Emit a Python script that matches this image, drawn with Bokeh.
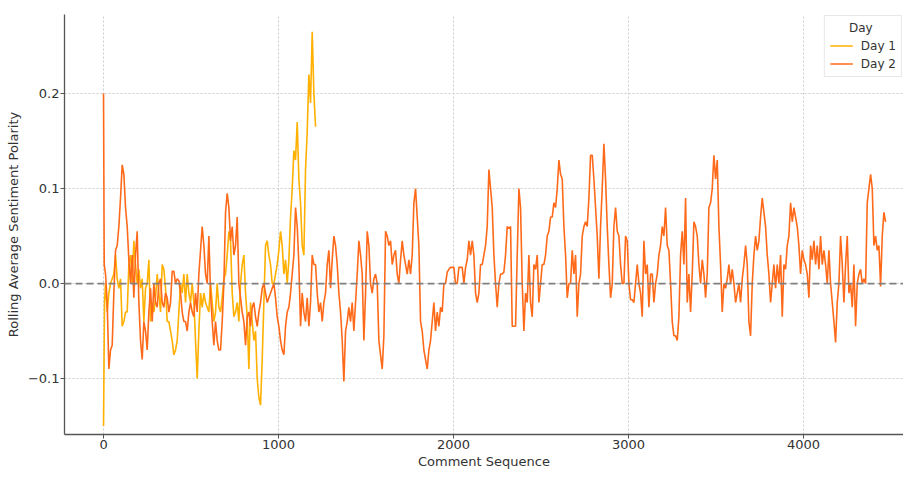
from bokeh.plotting import figure
from bokeh.models import Range1d, Span, Legend, LegendItem, FixedTicker
from bokeh.embed import file_html
from bokeh.resources import INLINE

# ---------------- data (rolling average sentiment polarity) ----------------
SAMPLE_STEP = 9.524   # comments between consecutive readings
GRID_START = 11.43    # first regular reading position

day1_head_x = [0, 5.7]
day1_head_y = [-0.15, -0.02]
day1_values = [
    0.0, -0.03, -0.01, 0.0, 0.005, 0.01, 0.03, 0.005, -0.005, 0.005,
    -0.045, -0.04, -0.03, -0.03, 0.02, 0.03, 0.0, 0.045, 0.02, 0.0,
    0.015, -0.005, 0.005, -0.04, -0.005, 0.0, 0.025, -0.04, -0.02, -0.03,
    -0.015, 0.01, -0.01, -0.03, 0.02, 0.015, -0.005, -0.04, -0.04, -0.05,
    -0.06, -0.075, -0.07, -0.06, -0.03, 0.0, -0.01, 0.01, -0.02, 0.01,
    -0.01, -0.02, 0.0, -0.02, -0.06, -0.1, -0.05, -0.01, -0.025, -0.01,
    -0.02, -0.025, -0.03, 0.0, -0.02, -0.04, -0.03, 0.0, -0.025, -0.03,
    -0.015, 0.005, 0.01, 0.03, 0.055, 0.045, -0.01, -0.035, -0.03, -0.02,
    -0.04, 0.0, 0.02, 0.03, -0.01, -0.035, -0.09, -0.02, -0.04, -0.06,
    -0.05, -0.1, -0.12, -0.128, -0.08, -0.02, 0.04, 0.045, 0.03, 0.02,
    0.0, 0.0, 0.01, 0.02, 0.035, 0.055, 0.04, 0.01, 0.025, 0.0,
    0.025, 0.07, 0.1, 0.14, 0.13, 0.17, 0.11, 0.085, 0.04, 0.03,
    0.12, 0.16, 0.22, 0.19, 0.265, 0.2, 0.165,
]

day2_head_x = [0, 4]
day2_head_y = [0.2, 0.02]
day2_values = [
    # comments ~10 .. ~1980
    0.01, -0.02, -0.09, -0.07, -0.065, -0.01, 0.035, 0.04, 0.06, 0.09,
    0.125, 0.115, 0.08, 0.06, 0.025, 0.0, 0.03, -0.015, 0.03, 0.055,
    -0.02, -0.06, -0.08, -0.04, -0.05, -0.07, -0.03, -0.005, -0.04, 0.0,
    -0.02, -0.025, 0.0, 0.005, -0.02, -0.025, -0.01, -0.015, -0.03, -0.02,
    0.013, 0.013, 0.0, 0.005, 0.003, -0.01, -0.03, -0.04, -0.04, -0.05,
    -0.03, -0.02, -0.03, -0.035, -0.01, -0.03, 0.01, 0.035, 0.06, 0.04,
    0.01, 0.0, 0.05, -0.01, -0.04, -0.065, -0.04, -0.06, -0.07, -0.07,
    -0.04, 0.0, 0.075, 0.095, 0.08, 0.045, 0.06, 0.03, 0.04, 0.07,
    0.0, -0.015, -0.03, -0.04, -0.065, -0.035, -0.03, -0.045, -0.025, -0.02,
    -0.035, -0.045, -0.03, -0.02, -0.005, 0.0, -0.01, -0.02, -0.015, -0.01,
    -0.005, 0.0, -0.015, -0.035, -0.045, -0.06, -0.07, -0.075, -0.045, -0.03,
    -0.025, -0.01, 0.01, 0.03, 0.08, 0.06, 0.02, -0.045, -0.01, -0.03,
    -0.04, -0.015, -0.045, -0.02, 0.03, 0.02, 0.02, -0.01, -0.03, -0.02,
    -0.04, -0.02, -0.01, 0.02, 0.035, -0.005, 0.025, 0.05, 0.04, 0.02,
    -0.01, -0.03, -0.06, -0.103, -0.05, -0.04, -0.025, -0.04, -0.02, -0.05,
    -0.02, 0.01, 0.045, 0.03, 0.01, -0.06, -0.01, 0.055, 0.04, 0.0,
    -0.01, 0.005, 0.01, 0.0, -0.06, -0.075, -0.09, -0.055, 0.055, 0.05,
    0.04, 0.045, 0.02, 0.03, 0.035, 0.01, 0.0, 0.025, 0.045, 0.03,
    0.02, 0.01, 0.025, 0.01, 0.03, 0.085, 0.1, 0.07, 0.04, -0.04,
    -0.05, -0.07, -0.08, -0.09, -0.07, -0.06, -0.04, -0.02, -0.05, -0.03,
    -0.045, -0.025, -0.03, 0.0, 0.0, 0.012, 0.015,
    # comments ~1983 .. ~4470
    0.017, 0.017, 0.017, 0.0, 0.0, 0.017, 0.017, 0.017, 0.0, 0.017,
    0.025, 0.045, 0.03, 0.045, 0.03, -0.01, -0.02, -0.01, 0.02, 0.02,
    0.03, 0.04, 0.06, 0.12, 0.1, 0.08, 0.03, 0.0, -0.025, 0.0,
    0.01, 0.01, 0.012, 0.03, 0.06, 0.058, 0.06, -0.045, -0.045, -0.045,
    0.03, 0.1, 0.08, 0.0, -0.05, -0.01, -0.02, 0.03, -0.02, -0.035,
    0.02, 0.015, 0.03, -0.02, 0.0, 0.02, 0.02, 0.03, 0.05, 0.055,
    0.07, 0.07, 0.085, 0.08, 0.1, 0.13, 0.115, 0.11, 0.06, 0.03,
    -0.015, 0.0, 0.0, 0.035, 0.01, 0.03, -0.035, 0.0, 0.01, 0.05,
    0.06, 0.065, 0.06, 0.09, 0.135, 0.135, 0.11, 0.08, 0.05, 0.005,
    0.06, 0.1, 0.147, 0.11, 0.06, 0.02, -0.015, 0.0, 0.06, 0.08,
    0.055, 0.05, 0.02, 0.0, 0.0, 0.05, 0.045, 0.0, -0.017, -0.017,
    -0.02, 0.0, 0.02, 0.0, -0.01, -0.035, 0.045, 0.01, 0.02, -0.025,
    0.01, 0.01, -0.02, 0.0, 0.01, 0.03, 0.04, 0.06, 0.05, 0.08,
    0.04, 0.035, 0.0, -0.04, -0.055, -0.055, -0.06, -0.035, 0.03, 0.055,
    0.02, 0.09, -0.02, 0.01, -0.03, 0.01, 0.065, 0.06, 0.05, 0.02,
    0.0, 0.025, 0.01, -0.015, 0.01, 0.08, 0.085, 0.1, 0.135, 0.11,
    0.13, 0.06, 0.02, -0.03, 0.0, -0.005, 0.005, 0.02, 0.0, 0.015,
    0.0, -0.02, -0.01, 0.0, -0.02, 0.005, 0.02, 0.04, 0.02, -0.04,
    -0.055, 0.0, 0.03, 0.05, 0.035, 0.045, 0.07, 0.09, 0.075, 0.06,
    0.03, 0.01, -0.02, 0.0, 0.02, -0.005, 0.02, 0.0, 0.03, -0.035,
    0.02, 0.015, 0.04, 0.05, 0.085, 0.065, 0.08, 0.07, 0.06, 0.04,
    0.01, 0.035, 0.025, 0.02, 0.01, -0.015, 0.04, 0.025, 0.045, 0.02,
    0.04, 0.015, 0.05, 0.02, 0.035, 0.02, 0.0, 0.035, 0.0, -0.02,
    -0.04, -0.062, -0.02, 0.0, 0.05, 0.02, -0.02, 0.02, 0.05, -0.01,
    0.0, -0.025, 0.02, -0.045, 0.0, 0.01, 0.015, 0.0, 0.005, 0.0,
    0.085, 0.1, 0.115, 0.1, 0.04, 0.05, 0.035, 0.04, -0.003, 0.05,
    0.075, 0.065,
]

day1_x = day1_head_x + [GRID_START + SAMPLE_STEP * k for k in range(len(day1_values))]
day1_y = day1_head_y + day1_values
day2_x = day2_head_x + [GRID_START + SAMPLE_STEP * k for k in range(len(day2_values))]
day2_y = day2_head_y + day2_values

x_ticks = [0, 1000, 2000, 3000, 4000]
y_ticks = [-0.1, 0.0, 0.1, 0.2]
y_tick_labels = {-0.1: "\u22120.1", 0.0: "0.0", 0.1: "0.1", 0.2: "0.2"}
series_labels = ["Day 1", "Day 2"]
series_colors = ["#FFB000", "#FF6A1A"]

# ---------------- figure ----------------
FONT = "DejaVu Sans"
TEXT = "#333333"

p = figure(width=903, height=472, output_backend="svg", toolbar_location=None,
           x_range=Range1d(-223, 4571), y_range=Range1d(-0.1589, 0.2832),
           min_border_left=64, min_border_top=14, min_border_right=0,
           min_border_bottom=38)
p.outline_line_color = None
p.background_fill_color = "white"
p.border_fill_color = "white"

r1 = p.line(day1_x, day1_y, line_color=series_colors[0], line_width=1.6)
r2 = p.line(day2_x, day2_y, line_color=series_colors[1], line_width=1.6)

zero = Span(location=0, dimension="width", line_color="#808080",
            line_dash="7 4", line_width=1.8)
p.add_layout(zero)

for ax in (p.xaxis[0], p.yaxis[0]):
    ax.axis_line_color = "#555555"
    ax.axis_line_width = 1.3
    ax.major_tick_line_color = "#555555"
    ax.major_tick_out = 4
    ax.major_tick_in = 0
    ax.minor_tick_line_color = None
    ax.major_label_text_font = FONT
    ax.major_label_text_font_size = "13px"
    ax.major_label_text_color = TEXT
    ax.axis_label_text_font = FONT
    ax.axis_label_text_font_size = "13px"
    ax.axis_label_text_font_style = "normal"
    ax.axis_label_text_color = TEXT
    ax.major_label_standoff = 1

p.xaxis.ticker = FixedTicker(ticks=x_ticks)
p.yaxis.ticker = FixedTicker(ticks=y_ticks)
p.yaxis.major_label_overrides = y_tick_labels
p.xaxis.axis_label = "Comment Sequence"
p.yaxis.axis_label = "Rolling Average Sentiment Polarity"
p.xaxis.axis_label_standoff = 2
p.yaxis.axis_label_standoff = 4

p.xgrid.ticker = FixedTicker(ticks=x_ticks)
p.ygrid.ticker = FixedTicker(ticks=y_ticks)
for g in (p.xgrid[0], p.ygrid[0]):
    g.grid_line_color = "#cccccc"
    g.grid_line_dash = "2 2"
    g.grid_line_width = 1

legend = Legend(
    items=[LegendItem(label=series_labels[0], renderers=[r1]),
           LegendItem(label=series_labels[1], renderers=[r2])],
    location="top_right",
    title="\u00a0\u00a0\u00a0\u00a0\u00a0Day",
    title_text_font=FONT, title_text_font_size="12px", title_text_font_style="normal",
    title_text_color=TEXT, title_standoff=3,
    label_text_font=FONT, label_text_font_size="12px", label_text_color=TEXT,
    glyph_width=23, glyph_height=15, label_height=15, label_standoff=8,
    spacing=3, padding=5, margin=1,
    border_line_color="#d0d0d0", border_line_width=1,
    background_fill_color="white", background_fill_alpha=0.9,
)
p.add_layout(legend)

open("out.html", "w").write(file_html(p, INLINE))
